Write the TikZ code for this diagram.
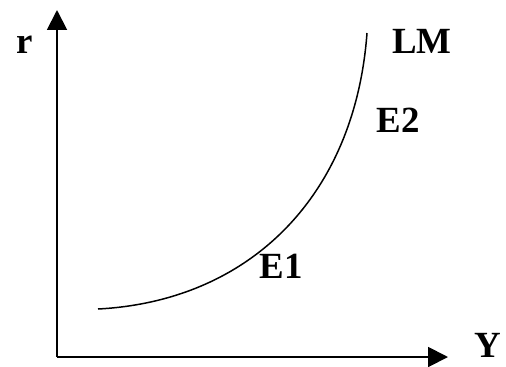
\documentclass[tikz,border=0pt]{standalone}
\usepackage{fontspec}
\setmainfont{Liberation Serif}
\usetikzlibrary{arrows.meta}

\begin{document}
\begin{tikzpicture}[x=0.02cm, y=0.02cm, every node/.style={font=\fontsize{21}{25}\selectfont\bfseries, inner sep=0pt}]
\useasboundingbox (0,0) rectangle (506,366);
% === Axes ===
\coordinate (origin) at (57,9);
\coordinate (rtip) at (57,356);
\coordinate (ytip) at (448,9);
\draw[line width=1.1pt, -{Triangle[length=0.4cm, width=0.4cm]}] (origin) -- (rtip);
\draw[line width=1.1pt, -{Triangle[length=0.4cm, width=0.4cm]}] (origin) -- (ytip);
\node (rlabel) at (25,321) {r};
\node (ylabel) at (488,21) {Y};

% === LM curve ===
\coordinate (lmstart) at (98,57);
\coordinate (lmend) at (367,333);
\draw[line width=0.85pt] (lmstart) .. controls (250,65) and (355,170) .. (lmend);
\node (lmlabel) at (422,325) {LM};
\node (etwo) at (398,246) {E2};
\node (eone) at (281,100) {E1};
\end{tikzpicture}
\end{document}
